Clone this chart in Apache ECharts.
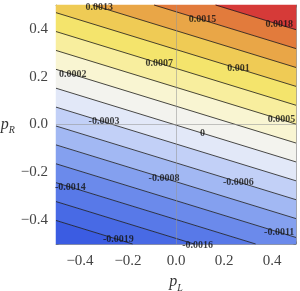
<!DOCTYPE html>
<html><head><meta charset="utf-8">
<script src="https://cdn.jsdelivr.net/npm/echarts@6/dist/echarts.min.js"></script>
<style>html,body{margin:0;padding:0;background:#fff}#c{width:300px;height:291px}</style>
</head><body><div id="c"></div>
<script>
// Linear field f(pL, pR) = fieldA*pL + fieldB*pR + fieldC
const fieldA = 0.00103;
const fieldB = 0.00334;
const fieldC = -0.000037;
const xRange = [-0.5, 0.5];
const yRange = [-0.5, 0.5];
// contour levels and their printed labels
const levels = [-0.001893,-0.001629,-0.001365,-0.001101,-0.000837,-0.000573,-0.000309,-0.000045,0.000219,0.000483,0.000747,0.001011,0.001275,0.001539,0.001803];
const levelLabels = ['-0.0019','-0.0016','-0.0014','-0.0011','-0.0008','-0.0006','-0.0003','0','0.0002','0.0005','0.0007','0.001','0.0013','0.0015','0.0018'];
// pL position of each contour label
const labelPL = [-0.24, 0.09, -0.44, 0.43, -0.05, 0.26, -0.30, 0.11, -0.43, 0.44, -0.07, 0.26, -0.32, 0.11, 0.43];
// colour of each band (below first level ... above last level)
const bandColors = ['#3b5ce2','#486ae5','#5879e8','#6b8aeb','#84a0ef','#a2b8f3','#c2d0f7','#e2e8f8','#f3f3ee','#f9f5d2','#f8ee9e','#f4e46c','#efcb55','#e9a647','#e27b3c','#d63a38'];
const majorTicks = [-0.4,-0.2,0,0.2,0.4];
const minorTicks = [-0.5,-0.45,-0.35,-0.3,-0.25,-0.15,-0.1,-0.05,0.05,0.1,0.15,0.25,0.3,0.35,0.45,0.5];

const f = p => fieldA*p[0] + fieldB*p[1] + fieldC;
const square = [[xRange[0],yRange[0]],[xRange[1],yRange[0]],[xRange[1],yRange[1]],[xRange[0],yRange[1]]];
function clip(poly, g){
  const out=[];
  for(let k=0;k<poly.length;k++){
    const p=poly[k], q=poly[(k+1)%poly.length];
    const gp=g(p), gq=g(q);
    if(gp>=0) out.push(p);
    if((gp>=0)!==(gq>=0)){
      const t=gp/(gp-gq);
      out.push([p[0]+t*(q[0]-p[0]), p[1]+t*(q[1]-p[1])]);
    }
  }
  return out;
}
function levelSegment(L){
  const pts=[];
  for(const x of xRange){ const y=(L-fieldC-fieldA*x)/fieldB; if(y>=yRange[0]&&y<=yRange[1]) pts.push([x,y]); }
  for(const y of yRange){ const x=(L-fieldC-fieldB*y)/fieldA; if(x>xRange[0]&&x<xRange[1]) pts.push([x,y]); }
  pts.sort((a,b)=>a[0]-b[0]);
  return pts;
}
const fmt = v => (v<0?'\u2212':'') + Math.abs(v).toFixed(1);
const serif = 'Liberation Serif';
const rich = {p:{fontFamily:serif,fontStyle:'italic',fontSize:16,color:'#333'},s:{fontFamily:serif,fontStyle:'italic',fontSize:10,color:'#333',verticalAlign:'bottom',padding:[0,0,-3,0]}};

function axis(kind, pos, major, withLabel, name){
  const a = {type:'value', position:pos, min:-0.5, max:0.5,
    axisLine:{show:major, onZero:false, lineStyle:{color:'#9a9a9a',width:1}},
    axisTick:{show:true, inside:true, length: major?5:2.5, customValues: major?majorTicks:minorTicks, lineStyle:{color:'#777',width:1}},
    axisLabel:{show:withLabel, customValues: majorTicks, formatter: fmt, fontFamily:serif, fontSize:15, color:'#444', margin: kind==='x'?10:8},
    splitLine:{show:false}};
  if(name){ a.name=name; a.nameLocation='middle'; a.nameTextStyle={rich:rich}; a.nameGap = kind==='x'?26:33; a.nameRotate=0; }
  return a;
}

const series = [];
series.push({type:'custom', coordinateSystem:'cartesian2d', silent:true, z:1,
  data: bandColors.map(()=>[0,0]),
  renderItem:(params, api)=>{
    const i=params.dataIndex;
    let poly=square;
    if(i>0) poly=clip(poly, p=>f(p)-levels[i-1]);
    if(i<levels.length) poly=clip(poly, p=>levels[i]-f(p));
    return {type:'polygon', shape:{points: poly.map(p=>api.coord(p))}, style:{fill:bandColors[i], stroke:bandColors[i], lineWidth:0.5}};
  }});
series.push({type:'line', data:[], silent:true, z:2,
  markLine:{silent:true, symbol:['none','none'], label:{show:false},
    lineStyle:{color:'rgba(150,150,150,0.55)', width:1, type:'solid'},
    data:[{xAxis:0},{yAxis:0}]}});
levels.forEach(L=>{
  series.push({type:'line', data: levelSegment(L), showSymbol:false, symbol:'none', silent:true, z:3,
    lineStyle:{color:'#1a1a1a', width:0.8}});
});
series.push({type:'scatter', symbolSize:0, silent:true, z:5, clip:false,
  data: levels.map((L,i)=>[labelPL[i], (L-fieldC-fieldA*labelPL[i])/fieldB]),
  label:{show:true, position:'inside', formatter: p=>levelLabels[p.dataIndex], fontFamily:serif, fontSize:10, fontWeight:'bold', color:'#111'}});

const chart = echarts.init(document.getElementById('c'), null, {renderer:'canvas'});
chart.setOption({
  animation:false,
  grid:{left:56, right:4, top:5, bottom:47, outerBoundsMode:'none', containLabel:false},
  xAxis:[axis('x','bottom',true,true,'{p|p}{s|L}'), axis('x','bottom',false,false), axis('x','top',true,false), axis('x','top',false,false)],
  yAxis:[axis('y','left',true,true,'{p|p}{s|R}'), axis('y','left',false,false), axis('y','right',true,false), axis('y','right',false,false)],
  series: series
});
</script></body></html>
